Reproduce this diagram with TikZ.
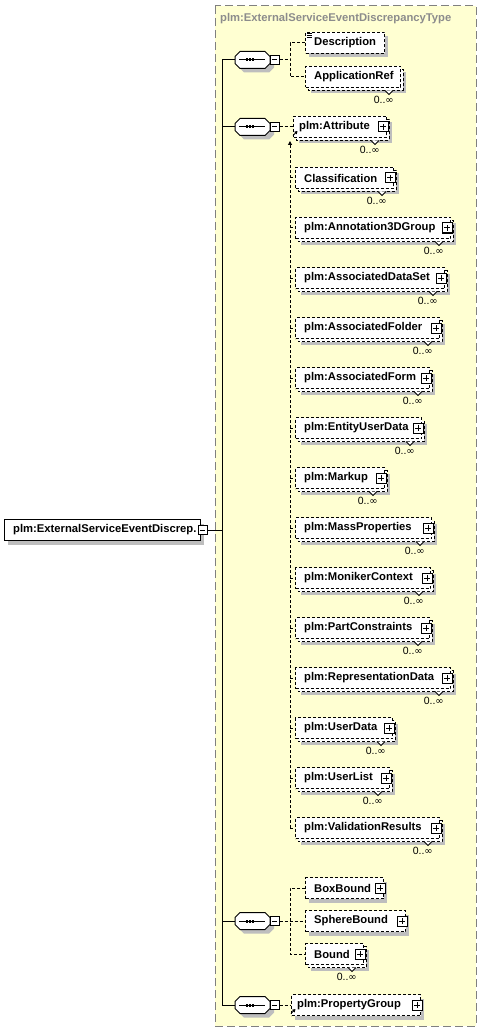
\documentclass[tikz,border=0pt]{standalone}
\usepackage{fontspec}
\setmainfont{Liberation Sans}
\newfontfamily\dvs{DejaVu Sans}
\usetikzlibrary{arrows.meta}
\definecolor{bgy}{HTML}{FFFFD2}
\definecolor{shc}{HTML}{BEBEBE}
\definecolor{ttl}{HTML}{8C8C8C}
\definecolor{bdr}{HTML}{808080}
\tikzset{
  conn/.style={line width=1pt, dash pattern=on 3pt off 2pt},
  solidln/.style={line width=1pt, solid},
  ebox/.style={draw, fill=white, line width=1pt, dash pattern=on 3pt off 2pt, inner sep=0pt, minimum height=21pt},
  rbox/.style={draw, fill=white, line width=1pt, inner sep=0pt, minimum height=21pt},
  etext/.style={inner sep=0pt, font=\fontsize{11.25}{13}\selectfont\bfseries},
  occ/.style={inner sep=0pt, font=\fontsize{10.5}{12}\selectfont},
  pm/.style={draw, fill=white, line width=1pt, solid, inner sep=0pt, minimum size=#1},
  pm/.default=10pt,
  hide/.style={inner sep=0pt, minimum width=35pt, minimum height=17pt},
}
% name, xl, xr, yc, text, multi, plus, text offset
\newcommand\Elem[8]{%
  \pgfmathsetmacro\ew{#3-#2}%
  \ifnum#6=1
    \fill[shc] (#2+6,#4-4.5) rectangle (#3+6,#4+16.5);
    \draw[conn, fill=white] (#2+3,#4-7.5) rectangle (#3+3,#4+13.5);
  \else
    \fill[shc] (#2+4,#4-6.5) rectangle (#3+4,#4+14.5);
  \fi
  \node[ebox, minimum width=\ew pt, anchor=west] (#1) at (#2,#4) {};
  \node[etext, anchor=west] (#1-t) at (#2+#8,#4) {#5};
  \ifnum#6=1
    \draw[solidln, fill=white] (#3-15,#4+13.5) -- (#3-11,#4+17.5) -- (#3-7,#4+13.5);
    \node[occ, anchor=east] (#1-o) at (#3-6,#4+23) {0..{\dvs\fontsize{10}{12}\selectfont ∞}};
  \fi
  \ifnum#7=1
    \node[pm] (#1-p) at (#3-3,#4) {};
    \draw[solidln] (#1-p.center) ++(-3,0) -- ++(6,0);
    \draw[solidln] (#1-p.center) ++(0,-3) -- ++(0,6);
  \fi
}
% compositor: name, yc
\newcommand\Seq[2]{%
  \fill[shc] (239,#2+0.5) -- (244,#2-4.5) -- (269,#2-4.5) -- (274,#2+0.5) -- (274,#2+7.5) -- (269,#2+12.5) -- (244,#2+12.5) -- (239,#2+7.5) -- cycle;
  \node[hide] (#1) at (252.5,#2) {};
  \draw[solidln, fill=white] (235,#2-3.5) -- (240,#2-8.5) -- (265,#2-8.5) -- (270,#2-3.5) -- (270,#2+3.5) -- (265,#2+8.5) -- (240,#2+8.5) -- (235,#2+3.5) -- cycle;
  \draw[solidln] (239,#2) -- (265,#2);
  \fill (245.5,#2-1.5) rectangle (247.7,#2+1.5);
  \fill (248.8,#2-1.5) rectangle (251.0,#2+1.5);
  \fill (252.1,#2-1.5) rectangle (254.3,#2+1.5);
  \node[pm=9pt] (#1-m) at (274.5,#2) {};
  \draw[solidln] (#1-m.center) ++(-2.5,0) -- ++(5,0);
}
\newcommand\RefArr[1]{%
  \draw[line width=1pt, -{Triangle[length=3pt,width=3.5pt]}] (#1.south west) ++(0,-2.5) -- ++(4.5,-4.5);
}
\begin{document}
\begin{tikzpicture}[x=1pt,y=-1pt]
\useasboundingbox (0,0) rectangle (483,1032);
% complex type container
\draw[fill=bgy, draw=bdr, line width=1pt, dash pattern=on 8pt off 4pt] (215,6) rectangle (476,1026);
\node[etext, text=ttl, anchor=west] (title) at (220,19) {plm:ExternalServiceEventDiscrepancyType};

% root element
\fill[shc] (8,523.5) rectangle (204,544.5);
\node[rbox, minimum width=196pt, anchor=west] (root) at (4,530) {};
\node[etext, anchor=west] (root-t) at (13,530) {plm:ExternalServiceEventDiscrep.};
\node[pm=9pt] (root-m) at (202.5,530) {};
\draw[solidln] (root-m.center) ++(-2.5,0) -- ++(5,0);

% compositors
\Seq{c1}{60}
\Seq{c2}{127}
\Seq{c3}{921}
\Seq{c4}{1005}

% elements
\Elem{desc}{305}{384}{43}{Description}{0}{0}{9}
\draw[line width=0.8pt] (desc.north west) ++(1.5,1.5) -- ++(5,0);
\draw[line width=0.8pt] (desc.north west) ++(1.5,3.5) -- ++(5,0);
\draw[line width=0.8pt] (desc.north west) ++(1.5,5.5) -- ++(5,0);
\Elem{appref}{305}{400}{77}{ApplicationRef}{1}{0}{9}

\Elem{attr}{293}{386}{127}{plm:Attribute}{1}{1}{6}
\RefArr{attr}
\Elem{class}{295}{393}{178}{Classification}{1}{1}{9}
\Elem{ann}{295}{450}{228}{plm:Annotation3DGroup}{1}{1}{9}
\Elem{ads}{295}{444}{278}{plm:AssociatedDataSet}{1}{1}{9}
\Elem{afo}{295}{439}{328}{plm:AssociatedFolder}{1}{1}{9}
\Elem{afm}{295}{429}{378}{plm:AssociatedForm}{1}{1}{9}
\Elem{eud}{295}{421}{428}{plm:EntityUserData}{1}{1}{9}
\Elem{mk}{295}{384}{478}{plm:Markup}{1}{1}{9}
\Elem{mp}{295}{431}{528}{plm:MassProperties}{1}{1}{9}
\Elem{mc}{295}{430}{578}{plm:MonikerContext}{1}{1}{9}
\Elem{pc}{295}{429}{628}{plm:PartConstraints}{1}{1}{9}
\Elem{rd}{295}{450}{678}{plm:RepresentationData}{1}{1}{9}
\Elem{ud}{295}{392}{728}{plm:UserData}{1}{1}{9}
\Elem{ul}{295}{389}{778}{plm:UserList}{1}{1}{9}
\Elem{vr}{295}{439}{828}{plm:ValidationResults}{1}{1}{9}

\Elem{bb}{305}{383}{888}{BoxBound}{0}{1}{9}
\Elem{sb}{305}{405}{921}{SphereBound}{0}{1}{9}
\Elem{bd}{305}{363}{954}{Bound}{1}{1}{9}

\Elem{pg}{291}{420}{1005}{plm:PropertyGroup}{0}{1}{6}
\RefArr{pg}

% trunk
\coordinate (tA) at (222,60);
\coordinate (tR) at (222,530);
\coordinate (tZ) at (222,1005);
\draw[solidln] (tA) -- (tZ);
\draw[solidln] (root-m.east) -- (tR);
\draw[solidln] (c1.west -| tA) -- (c1.west);
\draw[solidln] (c2.west -| tA) -- (c2.west);
\draw[solidln] (c3.west -| tA) -- (c3.west);
\draw[solidln] (c4.west -| tA) -- (c4.west);

% sequence 1
\coordinate (b1) at (290,60);
\draw[conn] (c1-m.east) -- (b1);
\draw[conn] (desc.west) -| (b1) |- (appref.west);

% sequence 2
\draw[conn] (c2-m.east) -- (attr.west);
\coordinate (v2a) at (290,141);
\coordinate (v2b) at (290,828);
\draw[conn, -{Triangle[length=4pt,width=4pt]}] (v2b) -- (v2a);
\foreach \n in {class,ann,ads,afo,afm,eud,mk,mp,mc,pc,rd,ud,ul,vr}
  \draw[conn] (\n.west -| v2a) -- (\n.west);

% sequence 3
\coordinate (b3) at (290,921);
\draw[conn] (c3-m.east) -- (sb.west);
\draw[conn] (bb.west) -| (b3) |- (bd.west);

% sequence 4
\draw[conn] (c4-m.east) -- (pg.west);
\end{tikzpicture}
\end{document}
